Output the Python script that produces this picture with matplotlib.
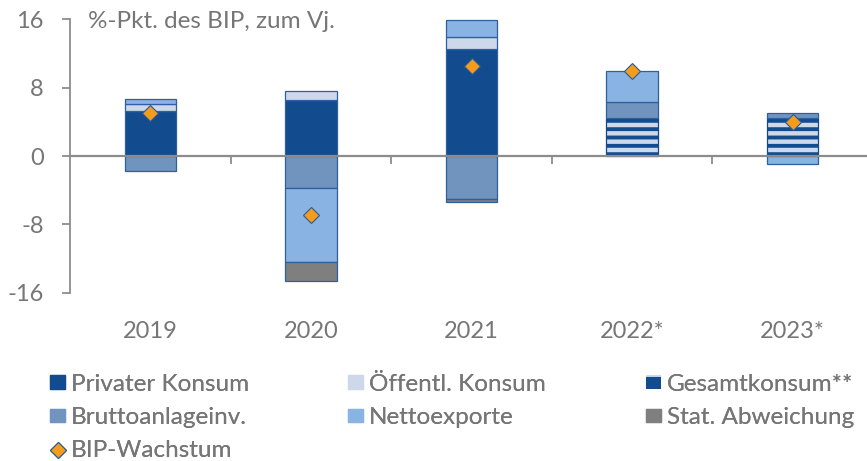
import numpy as np
import matplotlib
matplotlib.use("Agg")
import matplotlib.pyplot as plt
from matplotlib.patches import Patch
from matplotlib.lines import Line2D

plt.rcParams['font.family'] = ['Lato', 'DejaVu Sans']
plt.rcParams['hatch.linewidth'] = 2.8

years = ["2019", "2020", "2021", "2022*", "2023*"]
privat = [5.3, 6.6, 12.6, 0.0, 0.0]
oeff = [0.8, 1.0, 1.3, 0.0, 0.0]
gesamt = [0.0, 0.0, 0.0, 4.5, 4.4]
brutto = [-1.8, -3.8, -5.0, 1.8, 0.6]
netto = [0.6, -8.6, 2.0, 3.7, -0.9]
stat = [0.0, -2.2, -0.4, 0.0, 0.0]
bip = [5.0, -6.9, 10.5, 10.0, 4.0]
yticks = [-16, -8, 0, 8, 16]

TXT = '#767676'
GRAY = '#8c8c8c'
EDGE = '#2F5F9F'
NAVY = '#124C8E'
LIGHT = '#CDD9EA'

W, H = 867, 461
fig = plt.figure(figsize=(W / 100, H / 100), dpi=100)
ax = fig.add_axes([70 / W, 1 - 292.5 / H, (873 - 70) / W, 273 / H])

x = np.arange(len(years))
bw = 0.32
pos_base = np.zeros(len(years))
neg_base = np.zeros(len(years))

series = [
    ("Privater Konsum", privat, dict(color=NAVY, edgecolor=EDGE)),
    ("Öffentl. Konsum", oeff, dict(color=LIGHT, edgecolor=EDGE)),
    ("Gesamtkonsum**", gesamt, dict(facecolor=LIGHT, edgecolor=NAVY, hatch='--')),
    ("Bruttoanlageinv.", brutto, dict(color='#7094BD', edgecolor=EDGE)),
    ("Nettoexporte", netto, dict(color='#88B3E2', edgecolor=EDGE)),
    ("Stat. Abweichung", stat, dict(color='#7F7F7F', edgecolor=EDGE)),
]
handles = {}
for name, vals, style in series:
    v = np.array(vals, dtype=float)
    bottoms = np.where(v >= 0, pos_base, neg_base)
    mask = v != 0
    ax.bar(x[mask], v[mask], bw, bottom=bottoms[mask], linewidth=0.9, zorder=2, **style)
    pos_base = pos_base + np.where(v > 0, v, 0)
    neg_base = neg_base + np.where(v < 0, v, 0)
    if 'hatch' in style:
        handles[name] = Patch(facecolor=NAVY, edgecolor=LIGHT, hatch='-', linewidth=0)
    else:
        handles[name] = Patch(linewidth=0.9, **style)

ax.plot(x, bip, linestyle='none', marker='D', markersize=8.5, markerfacecolor='#F49C1C',
        markeredgecolor='#2B5A96', markeredgewidth=0.8, zorder=4)
handles["BIP-Wachstum"] = Line2D([], [], linestyle='none', marker='D', markersize=8.5,
                                 markerfacecolor='#F49C1C', markeredgecolor='#2B5A96',
                                 markeredgewidth=0.8)

ax.set_xlim(-0.5, len(years) - 0.5)
ax.set_ylim(-16, 16)
ax.set_yticks(yticks)
ax.set_yticklabels([str(t) for t in yticks])
for s in ['top', 'right']:
    ax.spines[s].set_visible(False)
ax.spines['left'].set_color(GRAY)
ax.spines['left'].set_linewidth(1.3)
ax.spines['bottom'].set_position(('data', 0))
ax.spines['bottom'].set_color(GRAY)
ax.spines['bottom'].set_linewidth(1.6)
ax.spines['bottom'].set_zorder(3)
ax.tick_params(axis='y', direction='out', length=6, width=1.3, color=GRAY,
               labelcolor=TXT, labelsize=17, pad=13)
ax.set_xticks(x[:-1] + 0.5)
ax.set_xticklabels([])
ax.set_xticks(x, minor=True)
ax.set_xticklabels(years, minor=True)
ax.tick_params(axis='x', which='major', direction='out', length=6, width=1.3, color=GRAY)
ax.tick_params(axis='x', which='minor', length=0, labelcolor=TXT, labelsize=17, pad=119)

fig.text(88 / W, 1 - 21 / H, "%-Pkt. des BIP, zum Vj.",
         ha='left', va='center', color=TXT, fontsize=17.5)

cols = [
    (["Privater Konsum", "Bruttoanlageinv.", "BIP-Wachstum"], 50),
    (["Öffentl. Konsum", "Nettoexporte"], 348),
    (["Gesamtkonsum**", "Stat. Abweichung"], 646),
]
for names, xpx in cols:
    leg = fig.legend([handles[n] for n in names], names, loc='upper left',
                     bbox_to_anchor=(xpx / W, 1 - 374 / H), frameon=False,
                     fontsize=17.5, labelcolor=TXT, handlelength=0.62, handleheight=0.5,
                     handletextpad=0.25, labelspacing=0.50, borderaxespad=0, borderpad=0)
    fig.add_artist(leg)

fig.savefig("out.png", dpi=100)
